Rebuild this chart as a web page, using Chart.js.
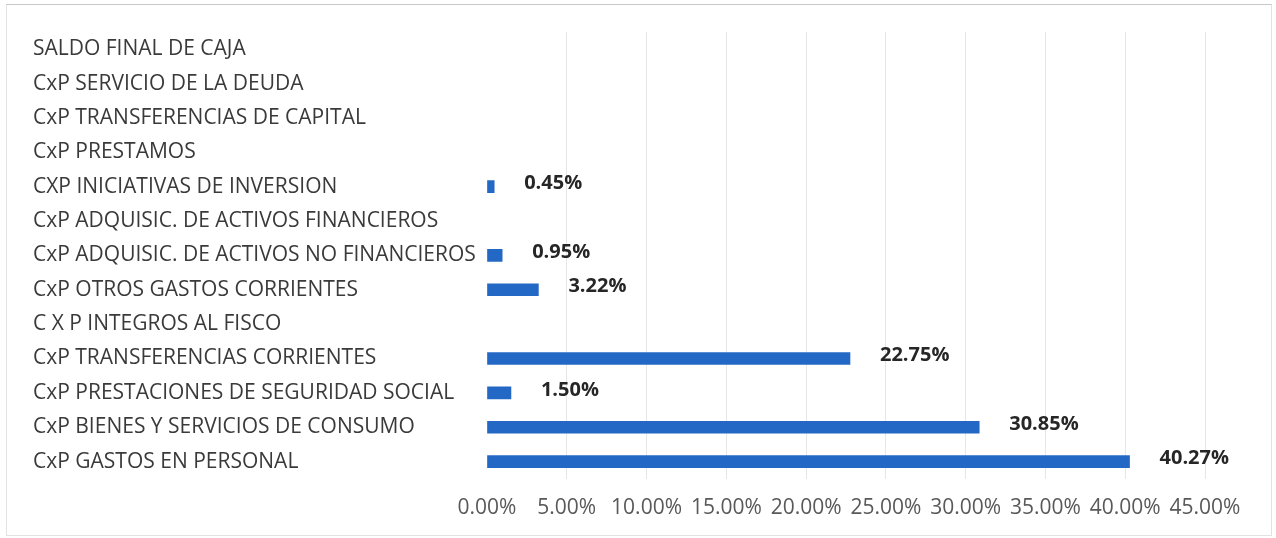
<!DOCTYPE html>
<html>
<head>
<meta charset="utf-8">
<script src="https://cdn.jsdelivr.net/npm/chart.js@4/dist/chart.umd.min.js"></script>
<style>
  html, body { margin: 0; padding: 0; background: #fff; }
  #wrap { position: relative; width: 1276px; height: 538px; }
  #frame { position: absolute; left: 6px; top: 4px; right: 4px; bottom: 2px; border: 1px solid #e2e2e2; border-top-color: #c8c8c8; pointer-events: none; }
</style>
</head>
<body>
<div id="wrap">
  <canvas id="grafico"></canvas>
  <div id="frame"></div>
</div>
<script>
const categorias = [
  "SALDO FINAL DE CAJA",
  "CxP SERVICIO DE LA DEUDA",
  "CxP TRANSFERENCIAS DE CAPITAL",
  "CxP PRESTAMOS",
  "CXP INICIATIVAS DE INVERSION",
  "CxP ADQUISIC. DE ACTIVOS FINANCIEROS",
  "CxP ADQUISIC. DE ACTIVOS NO FINANCIEROS",
  "CxP OTROS GASTOS CORRIENTES",
  "C X P INTEGROS AL FISCO",
  "CxP TRANSFERENCIAS CORRIENTES",
  "CxP PRESTACIONES DE SEGURIDAD SOCIAL",
  "CxP BIENES Y SERVICIOS DE CONSUMO",
  "CxP GASTOS EN PERSONAL"
];
const porcentajes = [0, 0, 0, 0, 0.45, 0, 0.95, 3.22, 0, 22.75, 1.50, 30.85, 40.27];
const ejeMin = 0;
const ejeMax = 45;
const ejePaso = 5;

const fuente = "'Open Sans', 'Noto Sans', sans-serif";
const azul = "#2468c6";

// etiquetas de datos a la derecha de cada barra
const etiquetas = {
  id: "etiquetas",
  afterDatasetsDraw(chart) {
    const ctx = chart.ctx;
    const meta = chart.getDatasetMeta(0);
    ctx.save();
    ctx.font = "bold 20px " + fuente;
    ctx.fillStyle = "#262626";
    ctx.textAlign = "left";
    ctx.textBaseline = "middle";
    meta.data.forEach((barra, i) => {
      const v = porcentajes[i];
      if (!v) return;
      ctx.fillText(v.toFixed(2) + "%", barra.x + 30, barra.y - 3);
    });
    ctx.restore();
  }
};

new Chart(document.getElementById("grafico").getContext("2d"), {
  type: "bar",
  data: {
    labels: categorias,
    datasets: [{
      data: porcentajes,
      // las barras en cero no se pintan
      backgroundColor: c => c.raw ? azul : "rgba(0,0,0,0)",
      barThickness: 12,
      borderSkipped: false
    }]
  },
  options: {
    indexAxis: "y",
    responsive: true,
    maintainAspectRatio: false,
    animation: false,
    layout: { padding: { left: 33, right: 71, top: 32, bottom: 0 } },
    plugins: {
      legend: { display: false },
      tooltip: { enabled: false }
    },
    scales: {
      x: {
        min: ejeMin,
        max: ejeMax,
        ticks: {
          stepSize: ejePaso,
          color: "#595959",
          font: { family: fuente, size: 21 },
          padding: 17,
          autoSkip: false,
          maxRotation: 0,
          callback: v => v.toFixed(2) + "%"
        },
        grid: {
          color: c => c.index === 0 ? "rgba(0,0,0,0)" : "#e6e6e6",
          drawTicks: false
        },
        border: { display: false }
      },
      y: {
        afterFit: s => { s.width = 454; },
        ticks: {
          crossAlign: "far",
          color: "#3a3a3a",
          font: { family: fuente, size: 21 },
          autoSkip: false
        },
        grid: { display: false, drawTicks: false },
        border: { display: false }
      }
    }
  },
  plugins: [etiquetas]
});
</script>
</body>
</html>
